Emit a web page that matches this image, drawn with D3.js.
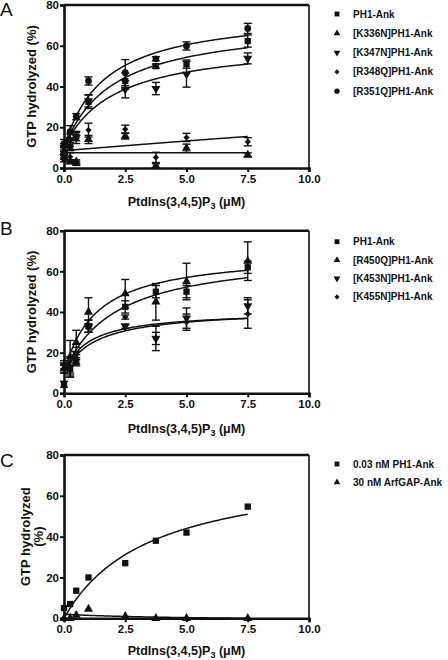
<!DOCTYPE html>
<html><head><meta charset="utf-8">
<script src="https://cdn.jsdelivr.net/npm/d3@7"></script>
<style>
html,body{margin:0;padding:0;background:#fff;}
svg{display:block;}
text{font-family:"Liberation Sans",Arial,sans-serif;}
</style></head>
<body>
<svg id="chart" width="448" height="660"></svg>
<script>
// ---------- DATA ----------
const xValues = [0, 0.25, 0.5, 1, 2.5, 3.75, 5, 7.5];
const xTicks = [0, 2.5, 5, 7.5, 10];
const xTickLabels = ["0.0", "2.5", "5.0", "7.5", "10.0"];
const yTicks = [0, 20, 40, 60, 80];
const xTitle = "PtdIns(3,4,5)P";
const panelLetters = ["A", "B", "C"];

// Panel A
const aNames = ["PH1-Ank", "[K336N]PH1-Ank", "[K347N]PH1-Ank", "[R348Q]PH1-Ank", "[R351Q]PH1-Ank"];
const aSymbols = ["square", "up", "down", "diamond", "circle"];
const aPH1 =   [5.3, 10.5, 15.4, 32.5, 42.7, 50, 51, 62.3];
const aPH1Err = [1, 2, 2, 3.3, 4, 1, 2, 3];
const aK336N = [7.8, 3.1, 3, 14, 15.7, 1.1, 9.7, 6.4];
const aK336NErr = [1, 1, 1, 2, 1.5, 1, 2, 1];
const aK347N = [10, 13.7, 15, 33, 38.6, 39, 46, 53.8];
const aK347NErr = [2, 3, 3, 3, 4.2, 3, 6.3, 2.7];
const aR348Q = [4, 5.5, 2.3, 18.6, 19, 5.2, 15, 12.9];
const aR348QErr = [1, 2, 1, 3.4, 2, 2.5, 2, 2];
const aR351Q = [12, 17.8, 25.2, 42.7, 46.8, 53.6, 59.9, 68.5];
const aR351QErr = [2, 3, 1.5, 2, 6.4, 1, 2, 2.5];
// fit params [offset, Bmax, Kd]
const aFits = [[10, 62.3, 2.03], [7.5, 0, 1], [10, 52.3, 2.06], [8.5, 100, 100], [10, 67.2, 1.66]];

// Panel B
const bNames = ["PH1-Ank", "[R450Q]PH1-Ank", "[K453N]PH1-Ank", "[K455N]PH1-Ank"];
const bSymbols = ["square", "up", "down", "diamond"];
const bPH1 =   [4.4, 12, 15.5, 33, 42.5, 50, 50, 62];
const bPH1Err = [1.5, 3, 2, 3, 3, 3, 3, 3];
const bR450Q = [12, 18, 25, 40, 49, 45, 55, 65];
const bR450QErr = [2, 8, 6, 7, 7, 9, 9, 9.5];
const bK453N = [14, 13, 19.6, 33, 33, 27, 37, 43];
const bK453NErr = [2, 5, 3, 3, 1, 3, 5, 4];
const bK455N = [12, 12, 17.5, 32, 37.5, 27, 35, 39];
const bK455NErr = [2, 4, 3, 2, 1, 6, 4, 7];
const bFits = [[10, 60, 2.1], [10, 59.4, 1.32], [10, 30.5, 1.0], [10, 31.5, 1.3]];

// Panel C
const cNames = ["0.03 nM PH1-Ank", "30 nM ArfGAP-Ank"];
const cSymbols = ["square", "up"];
const cPH1 = [5, 7, 13.5, 20, 27, 38, 42, 54.7];
const cArfGAP = [0, 0, 1.5, 4.5, 1, 0, 0, 0];
const cFits = [[0, 74.8, 3.5], [2, -3.33, 5]];

// ---------- LAYOUT ----------
const svg = d3.select("#chart");
const x0 = 64, x1 = 309;
const panels = [
  {letter: panelLetters[0], top: 5, bottom: 168, names: aNames, symbols: aSymbols,
   data: [aPH1, aK336N, aK347N, aR348Q, aR351Q], errs: [aPH1Err, aK336NErr, aK347NErr, aR348QErr, aR351QErr],
   fits: aFits, legendY: 14, legendStep: 19.3, ylab: ["GTP hydrolyzed (%)"], letterY: 16, xTitleY: 206},
  {letter: panelLetters[1], top: 230.7, bottom: 393.3, names: bNames, symbols: bSymbols,
   data: [bPH1, bR450Q, bK453N, bK455N], errs: [bPH1Err, bR450QErr, bK453NErr, bK455NErr],
   fits: bFits, legendY: 241.7, legendStep: 18.4, ylab: ["GTP hydrolyzed (%)"], letterY: 235, xTitleY: 433},
  {letter: panelLetters[2], top: 455, bottom: 618.3, names: cNames, symbols: cSymbols,
   data: [cPH1, cArfGAP], errs: [null, null],
   fits: cFits, legendY: 464, legendStep: 18.3, ylab: ["GTP hydrolyzed", "(%)"], letterY: 466.5, xTitleY: 655}
];

const x = d3.scaleLinear().domain([0, 10]).range([x0, x1]);

function symbolPath(kind, size) {
  if (kind === "square" || kind === "diamond") return d3.symbol(d3.symbolSquare, size)();
  if (kind === "up" || kind === "down") return d3.symbol(d3.symbolTriangle, size)();
  return d3.symbol(d3.symbolCircle, size)();
}
function rot(kind) {
  return kind === "down" ? " rotate(180)" : (kind === "diamond" ? " rotate(45)" : "");
}
const symSize = {square: 40, up: 36, down: 36, diamond: 20, circle: 36};
const legSize = {square: 24, up: 20, down: 20, diamond: 13, circle: 22};

panels.forEach(p => {
  const y = d3.scaleLinear().domain([0, 80]).range([p.bottom, p.top]);
  const g = svg.append("g");

  // frame (top + right)
  g.append("line").attr("x1", x0).attr("x2", x1).attr("y1", p.top).attr("y2", p.top)
    .attr("stroke", "#111").attr("stroke-width", 2.4);
  g.append("line").attr("x1", x1).attr("x2", x1).attr("y1", p.top).attr("y2", p.bottom)
    .attr("stroke", "#111").attr("stroke-width", 1.6);

  // axes
  const xa = g.append("g").attr("transform", `translate(0,${p.bottom})`)
    .call(d3.axisBottom(x).tickValues(xTicks).tickFormat((d, i) => xTickLabels[i]).tickSizeOuter(0).tickSize(4).tickPadding(3));
  const ya = g.append("g").attr("transform", `translate(${x0},0)`)
    .call(d3.axisLeft(y).tickValues(yTicks).tickSizeOuter(0).tickSize(4).tickPadding(1));
  [xa, ya].forEach(a => {
    a.select(".domain").attr("stroke", "#111").attr("stroke-width", 2.6);
    a.selectAll(".tick line").attr("stroke", "#111").attr("stroke-width", 2);
    a.selectAll(".tick text").attr("fill", "#111").attr("font-size", 11.5).attr("font-weight", "bold")
      .attr("font-family", '"Liberation Sans",Arial,sans-serif');
  });

  // fit curves
  const xs = d3.range(0, 7.5001, 0.05);
  const line = d3.line().x(d => x(d[0])).y(d => y(d[1]));
  p.fits.forEach(f => {
    const pts = xs.map(v => [v, f[0] + f[1] * v / (f[2] + v)]);
    g.append("path").attr("d", line(pts)).attr("fill", "none").attr("stroke", "#111").attr("stroke-width", 1.5);
  });

  // error bars + points
  p.data.forEach((ser, si) => {
    const err = p.errs[si];
    const kind = p.symbols[si];
    ser.forEach((v, i) => {
      const cx = x(xValues[i]), cy = y(v);
      if (err) {
        const e = err[i];
        g.append("line").attr("x1", cx).attr("x2", cx).attr("y1", y(v - e)).attr("y2", y(v + e))
          .attr("stroke", "#111").attr("stroke-width", 1.4);
        [v - e, v + e].forEach(ev => g.append("line").attr("x1", cx - 4).attr("x2", cx + 4)
          .attr("y1", y(ev)).attr("y2", y(ev)).attr("stroke", "#111").attr("stroke-width", 1.4));
      }
      g.append("path").attr("d", symbolPath(kind, symSize[kind]))
        .attr("transform", `translate(${cx},${cy})` + rot(kind))
        .attr("fill", "#111");
    });
  });

  // legend
  p.names.forEach((n, i) => {
    const ly = p.legendY + i * p.legendStep;
    const kind = p.symbols[i];
    g.append("path").attr("d", symbolPath(kind, legSize[kind]))
      .attr("transform", `translate(337,${ly})` + rot(kind))
      .attr("fill", "#111");
    g.append("text").attr("x", 353).attr("y", ly).attr("dy", "0.35em")
      .attr("font-size", 10).attr("font-weight", "bold").attr("fill", "#111").text(n);
  });

  // y title
  const yc = (p.top + p.bottom) / 2;
  const yt = g.append("text").attr("transform", `translate(${p.ylab.length > 1 ? 30 : 36},${yc}) rotate(-90)`)
    .attr("text-anchor", "middle").attr("font-size", 13).attr("font-weight", "bold").attr("fill", "#111");
  p.ylab.forEach((t, i) => yt.append("tspan").attr("x", 0).attr("dy", i === 0 ? 0 : 13).text(t));

  // x title
  const xt = g.append("text").attr("x", (x0 + x1) / 2).attr("y", p.xTitleY)
    .attr("text-anchor", "middle").attr("font-size", 12.5).attr("font-weight", "bold").attr("fill", "#111");
  xt.append("tspan").text(xTitle);
  xt.append("tspan").attr("font-size", 9).attr("dy", 3).text("3");
  xt.append("tspan").attr("dy", -3).text(" (\u03BCM)");

  // panel letter
  g.append("text").attr("x", 0).attr("y", p.letterY).attr("font-size", 19)
    .attr("font-family", '"Open Sans",sans-serif').attr("fill", "#111").text(p.letter);
});
</script>
</body></html>
